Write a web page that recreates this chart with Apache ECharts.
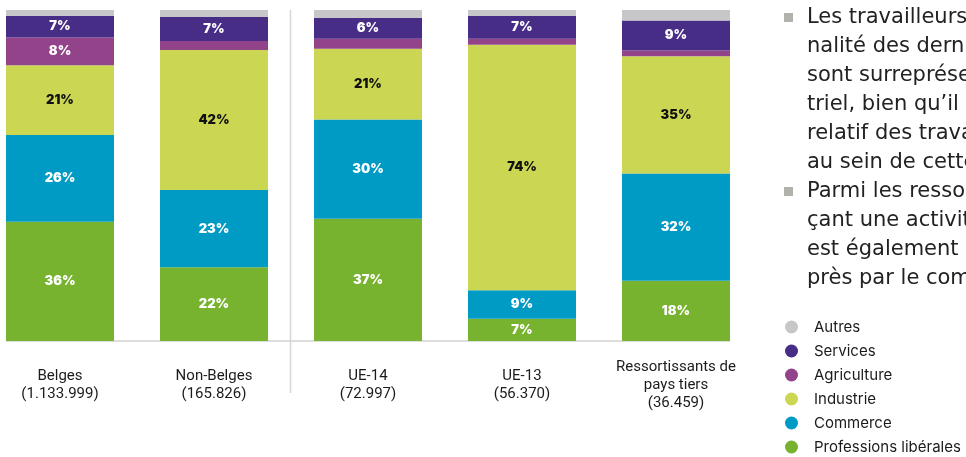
<!DOCTYPE html>
<html>
<head>
<meta charset="utf-8">
<script src="https://cdn.jsdelivr.net/npm/echarts@6/dist/echarts.min.js"></script>
<style>
  html, body { margin: 0; padding: 0; background: #fff; }
  #chart { width: 966px; height: 457px; }
</style>
</head>
<body>
<div id="chart"></div>
<script>
// categories (group + headcount)
const categories = ['Belges', 'Non-Belges', 'UE-14', 'UE-13', 'Ressortissants de\npays tiers'];
const counts = ['1.133.999', '165.826', '72.997', '56.370', '36.459'];

// shares in %, bottom to top of the stack
const professions = [36.0, 22.3, 36.9, 6.7, 18.2];
const commerce    = [26.2, 23.3, 30.0, 8.6, 32.4];
const industrie   = [21.1, 42.3, 21.4, 74.2, 35.4];
const agriculture = [8.4, 2.7, 3.0, 1.8, 1.8];
const services    = [6.6, 7.3, 6.3, 6.9, 9.0];
const autres      = [1.7, 2.1, 2.4, 1.8, 3.2];

const legendOrder = ['Autres', 'Services', 'Agriculture', 'Industrie', 'Commerce', 'Professions libérales'];

const paragraph = [
  'Les travailleurs de natio-',
  'nalité des derniers pays',
  'sont surreprésentés',
  'triel, bien qu\u2019il',
  'relatif des travailleurs',
  'au sein de cette',
  'Parmi les ressortissants',
  'çant une activité',
  'est également',
  'près par le commerce'
];
const bulletLines = [0, 6];

const chart = echarts.init(document.getElementById('chart'));

function seg(name, data, color, textColor) {
  return {
    name: name,
    type: 'bar',
    stack: 'total',
    barWidth: 108,
    data: data,
    itemStyle: { color: color },
    label: {
      show: true,
      position: 'inside',
      color: textColor,
      fontFamily: 'Inter',
      fontWeight: 900,
      fontSize: 13,
      formatter: p => p.value >= 5 ? Math.round(p.value) + '%' : ''
    },
    emphasis: { disabled: true }
  };
}

const graphics = [
  // baseline under bars
  { type: 'line', shape: { x1: 6, y1: 341, x2: 730, y2: 341 }, style: { stroke: '#d2d2d2', lineWidth: 1.5 } },
  // separator between totals and sub-groups
  { type: 'line', shape: { x1: 290.5, y1: 10, x2: 290.5, y2: 393 }, style: { stroke: '#d6d6d6', lineWidth: 1.5 } }
];
paragraph.forEach((t, i) => {
  graphics.push({
    type: 'text', x: 807, y: 18 + i * 29,
    style: { text: t, fill: '#222222', fontFamily: 'DejaVu Sans', fontSize: 21, verticalAlign: 'middle' }
  });
});
bulletLines.forEach(i => {
  graphics.push({
    type: 'rect', shape: { x: 784, y: 13 + i * 29, width: 9, height: 9 },
    style: { fill: '#b3b1ab' }
  });
});

chart.setOption({
  animation: false,
  backgroundColor: '#fff',
  grid: { left: -17, right: 213, top: 10, bottom: 116, containLabel: false, outerBoundsMode: 'none' },
  xAxis: {
    type: 'category',
    data: categories,
    axisLine: { show: false },
    axisTick: { show: false },
    axisLabel: {
      interval: 0,
      margin: 44,
      verticalAlign: 'middle',
      color: '#1b1b1b',
      fontFamily: 'Roboto',
      fontSize: 15,
      lineHeight: 18,
      formatter: (v, i) => v + '\n(' + counts[i] + ')'
    }
  },
  yAxis: { type: 'value', min: 0, max: 100, show: false },
  legend: {
    orient: 'vertical',
    left: 785,
    top: 319,
    padding: 0,
    height: 160,
    data: legendOrder,
    icon: 'circle',
    itemWidth: 13,
    itemHeight: 13,
    itemGap: 8,
    selectedMode: false,
    textStyle: { color: '#1b1b1b', fontFamily: 'Inter', fontSize: 15, lineHeight: 16, padding: [0, 0, 0, 11] }
  },
  series: [
    seg('Professions libérales', professions, '#78b32f', '#ffffff'),
    seg('Commerce', commerce, '#009bc4', '#ffffff'),
    seg('Industrie', industrie, '#cbd652', '#111111'),
    seg('Agriculture', agriculture, '#93438a', '#ffffff'),
    seg('Services', services, '#482d86', '#ffffff'),
    seg('Autres', autres, '#c7c7c9', '#ffffff')
  ],
  graphic: graphics
});
</script>
</body>
</html>
